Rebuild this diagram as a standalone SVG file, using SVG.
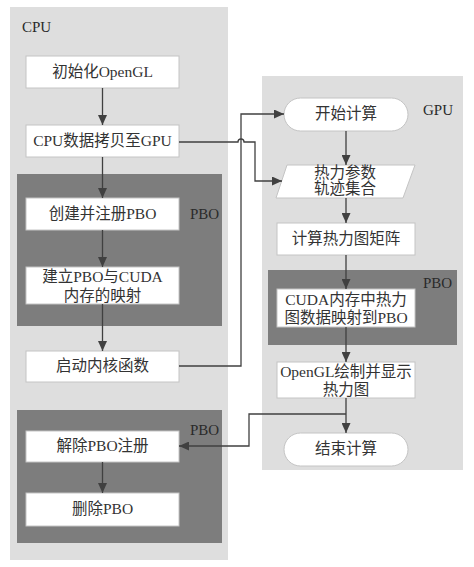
<svg xmlns="http://www.w3.org/2000/svg" width="474" height="567" viewBox="0 0 474 567">
<defs>
<marker id="ah" markerUnits="userSpaceOnUse" markerWidth="10" markerHeight="9" refX="10" refY="4.5" orient="auto">
<path d="M0,0 L10,4.5 L0,9 z" fill="#404040"/>
</marker>
<style>
.lp{fill:#dedede;}
.dp{fill:#7d7d7d;}
.bx{fill:#ffffff;stroke:#c4c4c4;stroke-width:1;}
.t{font-family:"Liberation Serif","Noto Sans CJK SC",serif;font-size:15.5px;fill:#333333;text-anchor:middle;}
.lb{font-family:"Liberation Serif","Noto Sans CJK SC",serif;font-size:15px;fill:#2a2a2a;}
.c{fill:none;stroke:#404040;stroke-width:1.3;}
.ca{fill:none;stroke:#404040;stroke-width:1.3;marker-end:url(#ah);}
</style>
</defs>
<rect width="474" height="567" fill="#ffffff"/>
<g id="cpu-panel">
<rect class="lp" x="10" y="7" width="218" height="553"/>
<text class="lb" x="22" y="32">CPU</text>
</g>
<g id="gpu-panel">
<rect class="lp" x="262" y="76" width="201" height="394"/>
<text class="lb" x="423" y="115">GPU</text>
</g>
<g id="pbo-panel-1">
<rect class="dp" x="17" y="174" width="205" height="152"/>
<text class="lb" x="190" y="219">PBO</text>
</g>
<g id="pbo-panel-2">
<rect class="dp" x="17" y="410" width="205" height="133"/>
<text class="lb" x="190" y="435">PBO</text>
</g>
<g id="pbo-panel-3">
<rect class="dp" x="268" y="270" width="189" height="75"/>
<text class="lb" x="423" y="288">PBO</text>
</g>
<g id="init-opengl">
<rect class="bx" x="26" y="56" width="153" height="32"/>
<text class="t" x="102.5" y="77">初始化OpenGL</text>
</g>
<g id="copy-to-gpu">
<rect class="bx" x="26" y="125" width="153" height="32"/>
<text class="t" x="102.5" y="146">CPU数据拷贝至GPU</text>
</g>
<g id="create-pbo">
<rect class="bx" x="26" y="198" width="153" height="32"/>
<text class="t" x="102.5" y="219">创建并注册PBO</text>
</g>
<g id="map-pbo">
<rect class="bx" x="26" y="267" width="153" height="37"/>
<text class="t" x="102.5" y="282">建立PBO与CUDA</text>
<text class="t" x="102.5" y="301">内存的映射</text>
</g>
<g id="launch-kernel">
<rect class="bx" x="26" y="351" width="153" height="31"/>
<text class="t" x="102.5" y="371">启动内核函数</text>
</g>
<g id="unregister-pbo">
<rect class="bx" x="26" y="431" width="153" height="31"/>
<text class="t" x="102.5" y="451">解除PBO注册</text>
</g>
<g id="delete-pbo">
<rect class="bx" x="26" y="493" width="153" height="33"/>
<text class="t" x="102.5" y="514">删除PBO</text>
</g>
<g id="start-compute">
<rect class="bx" x="284" y="98" width="124" height="33" rx="16.5" ry="16.5"/>
<text class="t" x="346" y="119">开始计算</text>
</g>
<g id="params">
<polygon class="bx" points="287,165 415,165 403,198 276,198"/>
<text class="t" x="345" y="178">热力参数</text>
<text class="t" x="345" y="194">轨迹集合</text>
</g>
<g id="compute-matrix">
<rect class="bx" x="277" y="223" width="138" height="32"/>
<text class="t" x="346" y="244">计算热力图矩阵</text>
</g>
<g id="cuda-map">
<rect class="bx" x="277" y="289" width="138" height="38"/>
<text class="t" x="346" y="305">CUDA内存中热力</text>
<text class="t" x="346" y="323">图数据映射到PBO</text>
</g>
<g id="opengl-draw">
<rect class="bx" x="277" y="362" width="138" height="36"/>
<text class="t" x="346" y="377">OpenGL绘制并显示</text>
<text class="t" x="346" y="395">热力图</text>
</g>
<g id="end-compute">
<rect class="bx" x="284" y="433" width="124" height="33" rx="16.5" ry="16.5"/>
<text class="t" x="346" y="454">结束计算</text>
</g>
<g id="connectors">
<path class="ca" d="M102.5,88 V125"/>
<path class="ca" d="M102.5,157 V198"/>
<path class="ca" d="M102.5,230 V267"/>
<path class="ca" d="M102.5,304 V351"/>
<path class="ca" d="M102.5,462 V493"/>
<path class="ca" d="M346,131 V165"/>
<path class="ca" d="M346,198 V223"/>
<path class="ca" d="M346,255 V289"/>
<path class="ca" d="M346,327 V362"/>
<path class="ca" d="M346,398 V433"/>
<path class="ca" d="M179,366 H241 V114 H284"/>
<path class="ca" d="M179,142 H238 A3,3 0 0 1 244,142 H255 V181 H282"/>
<path class="ca" d="M346,414 H249 V446 H179"/>
</g>
</svg>
